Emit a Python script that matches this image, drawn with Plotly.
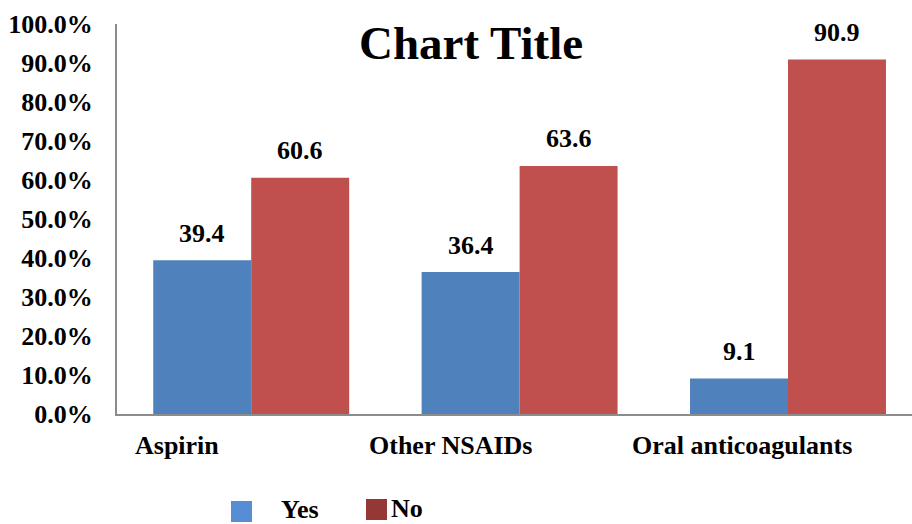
import plotly.graph_objects as go

# Share of patients by medication use
categories = ["Aspirin", "Other NSAIDs", "Oral anticoagulants"]
series_names = ["Yes", "No"]
yes_values = [39.4, 36.4, 9.1]
no_values = [60.6, 63.6, 90.9]
y_ticks = [0, 10, 20, 30, 40, 50, 60, 70, 80, 90, 100]
y_tick_labels = [f"{v:.1f}%" for v in y_ticks]

bar_colors = ["#4f81bd", "#c0504d"]
legend_colors = ["#558ed5", "#953735"]
FONT = "Liberation Serif, Times New Roman, serif"

x_idx = list(range(len(categories)))

fig = go.Figure()
for name, vals, col in zip(series_names, [yes_values, no_values], bar_colors):
    fig.add_trace(go.Bar(
        x=x_idx, y=vals, name=name,
        marker=dict(color=col, line=dict(width=0)),
        showlegend=False,
    ))

# Value labels above each bar (bars sit at -/+ half a bar width from the category centre)
half_bar = 0.73 / 4
annotations = []
for sign, vals in ((-1, yes_values), (1, no_values)):
    for i, v in enumerate(vals):
        annotations.append(dict(
            x=i + sign * half_bar, y=v, xref="x", yref="y",
            text=f"{v:.1f}", showarrow=False,
            xanchor="center", yanchor="middle", yshift=27,
            font=dict(family=FONT, size=26, color="black", weight="bold"),
        ))

# Category labels under the axis
label_shift = [-74, -69, -46]
for i, (cat, dx) in enumerate(zip(categories, label_shift)):
    annotations.append(dict(
        x=i, y=0, xref="x", yref="paper", text=cat, showarrow=False,
        xanchor="center", yanchor="middle", xshift=dx, yshift=-31,
        font=dict(family=FONT, size=26, color="black", weight="bold"),
    ))

# Legend: swatches and names below the plot
legend_boxes = [(0.1434, 0.1698, -0.2769, -0.2231), (0.3132, 0.3396, -0.2718, -0.2179)]
legend_text = [(0.2038, -0.2449), (0.3421, -0.2423)]
shapes = []
for (x0, x1, y0, y1), col in zip(legend_boxes, legend_colors):
    shapes.append(dict(type="rect", xref="paper", yref="paper",
                       x0=x0, x1=x1, y0=y0, y1=y1,
                       fillcolor=col, line=dict(width=0)))
for (tx, ty), name in zip(legend_text, series_names):
    annotations.append(dict(
        x=tx, y=ty, xref="paper", yref="paper", text=name, showarrow=False,
        xanchor="left", yanchor="middle",
        font=dict(family=FONT, size=26, color="black", weight="bold"),
    ))

fig.update_layout(
    width=912, height=524,
    margin=dict(l=117, r=0, t=24, b=110),
    paper_bgcolor="white", plot_bgcolor="white",
    barmode="group", bargap=0.27, bargroupgap=0,
    title=dict(text="Chart Title", x=471 / 912, y=1 - 43 / 524,
               xref="container", yref="container",
               xanchor="center", yanchor="middle",
               font=dict(family=FONT, size=47, color="black", weight="bold")),
    annotations=annotations,
    shapes=shapes,
    showlegend=False,
)
fig.update_xaxes(
    range=[-0.5, 2.462], showticklabels=False, showgrid=False,
    zeroline=False, showline=True, linecolor="#8c8c8c", linewidth=2,
    ticks="", fixedrange=True,
)
fig.update_yaxes(
    range=[0, 100], tickmode="array", tickvals=y_ticks, ticktext=y_tick_labels,
    showgrid=False, zeroline=False, showline=True, linecolor="#8c8c8c",
    linewidth=2, ticks="", ticklabelstandoff=17,
    tickfont=dict(family=FONT, size=26, color="black", weight="bold"),
)

fig.write_html("out.html")
